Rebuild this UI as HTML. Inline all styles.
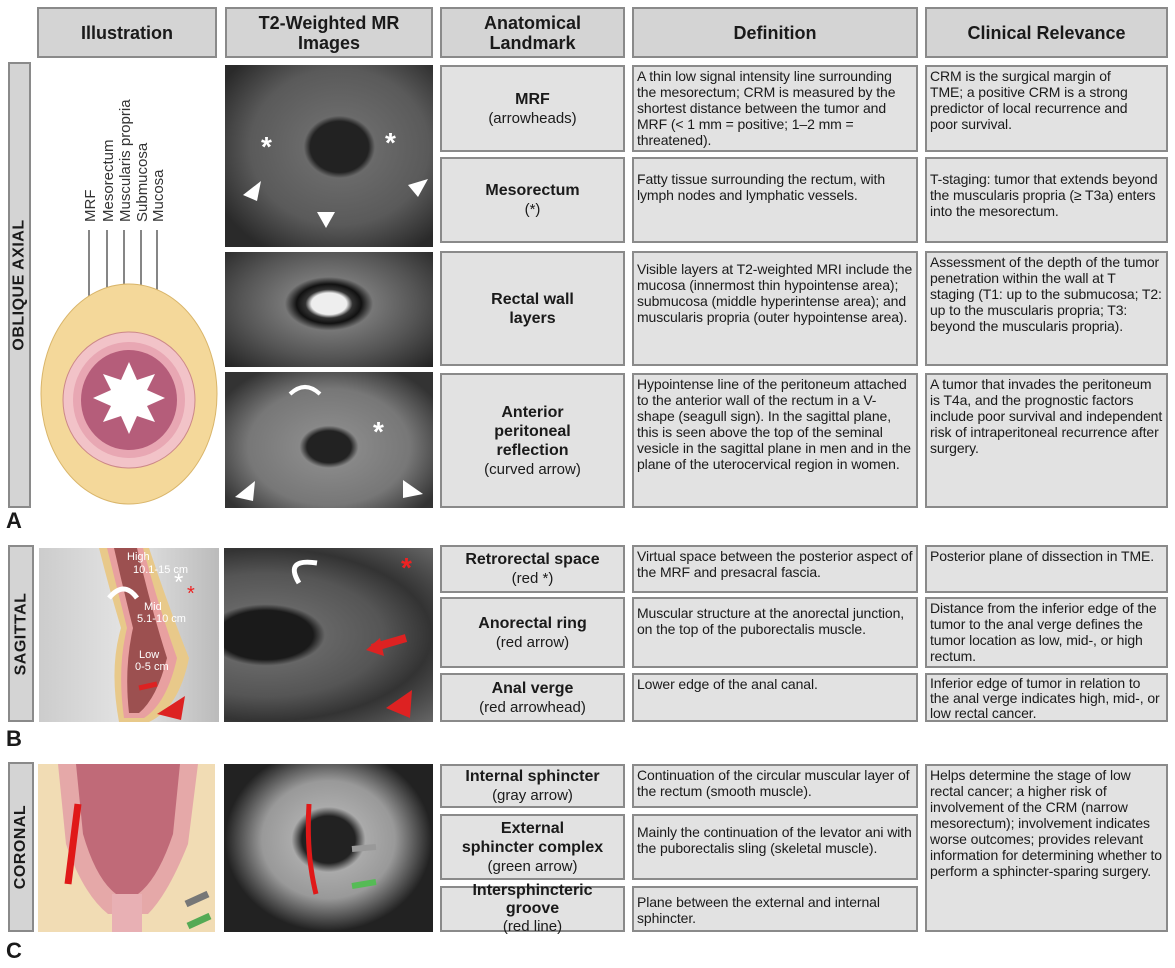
<!DOCTYPE html><html><head><style>
body{margin:0;width:1175px;height:968px;background:#fff;position:relative;overflow:hidden;font-family:"Liberation Sans",sans-serif;color:#1a1a1a}
.b{position:absolute;box-sizing:border-box;background:#e2e2e2;border:2px solid #8a8a8a}
.h{display:flex;align-items:center;justify-content:center;text-align:center;font-weight:bold;font-size:18px;line-height:20px;background:#d4d4d4}
.l{display:flex;flex-direction:column;align-items:center;justify-content:center;text-align:center;font-size:15px;line-height:19px}
.l b{font-size:16px}
.d{font-size:14px;line-height:16px;padding:1px 3px;letter-spacing:-0.1px}
.s{display:flex;align-items:center;justify-content:center;background:#d4d4d4}
.s span{transform:rotate(-90deg);white-space:nowrap;font-weight:bold;font-size:16px;letter-spacing:.5px}
.L{position:absolute;font-weight:bold;font-size:22px;left:6px}
.m{position:absolute;background:#3a3a3a;overflow:hidden}
.w{position:absolute;color:#fff;font-size:28px;font-weight:bold}
.r{position:absolute;color:#e22;font-size:28px;font-weight:bold}
</style></head><body>
<div class="b h" style="left:37px;top:7px;width:180px;height:51px">Illustration</div>
<div class="b h" style="left:225px;top:7px;width:208px;height:51px">T2-Weighted MR<br>Images</div>
<div class="b h" style="left:440px;top:7px;width:185px;height:51px">Anatomical<br>Landmark</div>
<div class="b h" style="left:632px;top:7px;width:286px;height:51px">Definition</div>
<div class="b h" style="left:925px;top:7px;width:243px;height:51px">Clinical Relevance</div>

<div class="b s" style="left:8px;top:62px;width:23px;height:446px"><span>OBLIQUE AXIAL</span></div>
<div class="L" style="top:508px">A</div>
<div class="b s" style="left:8px;top:545px;width:26px;height:177px"><span>SAGITTAL</span></div>
<div class="L" style="top:726px">B</div>
<div class="b s" style="left:8px;top:762px;width:26px;height:170px"><span>CORONAL</span></div>
<div class="L" style="top:938px">C</div>

<!-- Illustration A -->
<svg style="position:absolute;left:37px;top:60px" width="185" height="450">
<g font-size="15" fill="#333" font-family="Liberation Sans">
<text transform="translate(58,162) rotate(-90)">MRF</text>
<text transform="translate(76,162) rotate(-90)">Mesorectum</text>
<text transform="translate(93,162) rotate(-90)">Muscularis propria</text>
<text transform="translate(110,162) rotate(-90)">Submucosa</text>
<text transform="translate(126,162) rotate(-90)">Mucosa</text>
</g>
<g stroke="#444" stroke-width="1.3"><line x1="52" y1="170" x2="52" y2="240"/><line x1="70" y1="170" x2="70" y2="260"/><line x1="87" y1="170" x2="87" y2="275"/><line x1="104" y1="170" x2="104" y2="290"/><line x1="120" y1="170" x2="120" y2="300"/></g>
<ellipse cx="92" cy="334" rx="88" ry="110" fill="#f4d89a" stroke="#d9b56a"/>
<ellipse cx="92" cy="340" rx="66" ry="68" fill="#f2c3c8" stroke="#c88"/>
<ellipse cx="92" cy="340" rx="56" ry="58" fill="#e8a7b3"/>
<ellipse cx="92" cy="340" rx="48" ry="50" fill="#b55d7a"/>
<path d="M92 302 l8 18 l18 -6 l-8 16 l18 8 l-18 8 l8 16 l-18 -6 l-8 18 l-8 -18 l-18 6 l8 -16 l-18 -8 l18 -8 l-8 -16 l18 6z" fill="#fff"/>
</svg>
<!-- MRI A -->
<div class="m" style="left:225px;top:65px;width:208px;height:182px;background:radial-gradient(ellipse at 55% 45%,#222 0 18%,#6a6a6a 22%,#5a5a5a 55%,#2a2a2a 85%)"><span class="w" style="left:36px;top:66px">*</span><span class="w" style="left:160px;top:62px">*</span>
<svg width="208" height="182" style="position:absolute;left:0;top:0" fill="#fff"><path d="M18 130 l18 -14 l-4 20z"/><path d="M183 120 l20 -6 l-10 18z"/><path d="M92 147 l18 0 l-9 16z"/></svg></div>
<div class="m" style="left:225px;top:252px;width:208px;height:115px;background:radial-gradient(ellipse at 50% 45%,#eee 0 12%,#333 16%,#111 22%,#777 30%,#555 60%,#222)"></div>
<div class="m" style="left:225px;top:372px;width:208px;height:136px;background:radial-gradient(ellipse at 50% 55%,#222 0 15%,#888 20%,#777 55%,#333 85%)"><span class="w" style="left:148px;top:44px">*</span>
<svg width="208" height="136" style="position:absolute;left:0;top:0" fill="#fff"><path d="M65 22 q15 -14 30 0" stroke="#fff" stroke-width="4" fill="none"/><path d="M10 125 l20 -16 l-2 20z"/><path d="M178 108 l20 14 l-20 4z"/></svg></div>

<div class="b l" style="left:440px;top:65px;width:185px;height:87px"><b>MRF</b>(arrowheads)</div>
<div class="b l" style="left:440px;top:157px;width:185px;height:86px"><b>Mesorectum</b>(*)</div>
<div class="b l" style="left:440px;top:251px;width:185px;height:115px"><b>Rectal wall<br>layers</b></div>
<div class="b l" style="left:440px;top:373px;width:185px;height:135px"><b>Anterior<br>peritoneal<br>reflection</b>(curved arrow)</div>

<div class="b d" style="left:632px;top:65px;width:286px;height:87px">A thin low signal intensity line surrounding the mesorectum; CRM is measured by the shortest distance between the tumor and MRF (&lt; 1 mm = positive; 1–2 mm = threatened).</div>
<div class="b d" style="left:632px;top:157px;width:286px;height:86px;padding-top:12px">Fatty tissue surrounding the rectum, with lymph nodes and lymphatic vessels.</div>
<div class="b d" style="left:632px;top:251px;width:286px;height:115px;padding-top:8px">Visible layers at T2-weighted MRI include the mucosa (innermost thin hypointense area); submucosa (middle hyperintense area); and muscularis propria (outer hypointense area).</div>
<div class="b d" style="left:632px;top:373px;width:286px;height:135px">Hypointense line of the peritoneum attached to the anterior wall of the rectum in a V-shape (seagull sign). In the sagittal plane, this is seen above the top of the seminal vesicle in the sagittal plane in men and in the plane of the uterocervical region in women.</div>

<div class="b d" style="left:925px;top:65px;width:243px;height:87px;padding-right:30px">CRM is the surgical margin of TME; a positive CRM is a strong predictor of local recurrence and poor survival.</div>
<div class="b d" style="left:925px;top:157px;width:243px;height:86px;padding-top:12px">T-staging: tumor that extends beyond the muscularis propria (≥ T3a) enters into the mesorectum.</div>
<div class="b d" style="left:925px;top:251px;width:243px;height:115px">Assessment of the depth of the tumor penetration within the wall at T staging (T1: up to the submucosa; T2: up to the muscularis propria; T3: beyond the muscularis propria).</div>
<div class="b d" style="left:925px;top:373px;width:243px;height:135px">A tumor that invades the peritoneum is T4a, and the prognostic factors include poor survival and independent risk of intraperitoneal recurrence after surgery.</div>

<!-- Sagittal -->
<div style="position:absolute;left:39px;top:548px;width:180px;height:174px;background:linear-gradient(90deg,#ccc,#e4e4e4 50%,#bbb);overflow:hidden">
<svg width="180" height="174"><path d="M60 0 L110 0 Q130 60 150 110 Q140 160 110 174 L80 174 Q70 120 82 80 Q70 40 60 0z" fill="#e8c98a"/><path d="M68 0 L104 0 Q120 60 138 110 Q128 155 105 170 L85 170 Q78 120 88 80 Q78 40 68 0z" fill="#e8a0a0"/><path d="M75 0 L98 0 Q112 60 128 110 Q118 150 100 165 L90 165 Q85 120 94 80 Q84 40 75 0z" fill="#9c5050"/>
<path d="M100 140 l18 -4" stroke="#d22" stroke-width="5"/><path d="M118 166 l28 -18 l-4 24z" fill="#d22"/>
<path d="M70 50 q15 -18 28 0" stroke="#fff" stroke-width="5" fill="none"/>
<g fill="#fff" font-size="11" font-family="Liberation Sans"><text x="88" y="12">High</text><text x="94" y="25">10.1-15 cm</text><text x="105" y="62">Mid</text><text x="98" y="74">5.1-10 cm</text><text x="100" y="110">Low</text><text x="96" y="122">0-5 cm</text></g>
<text x="135" y="42" fill="#fff" font-size="24">*</text><text x="148" y="52" fill="#e22" font-size="20">*</text></svg></div>
<div class="m" style="left:224px;top:548px;width:209px;height:174px;background:radial-gradient(ellipse at 20% 50%,#1a1a1a 0 20%,#666 25%,#555 50%,#333 70%,#666)">
<span class="r" style="left:177px;top:4px">*</span>
<svg width="209" height="174" style="position:absolute;left:0;top:0"><path d="M75 35 q-15 -25 18 -20" stroke="#fff" stroke-width="5" fill="none"/><path d="M148 100 l34 -10" stroke="#d22" stroke-width="8"/><path d="M142 102 l14 -12 l4 18z" fill="#d22"/><path d="M162 160 l26 -18 l-2 28z" fill="#d22"/></svg></div>

<div class="b l" style="left:440px;top:545px;width:185px;height:48px"><b>Retrorectal space</b>(red *)</div>
<div class="b l" style="left:440px;top:597px;width:185px;height:71px"><b>Anorectal ring</b>(red arrow)</div>
<div class="b l" style="left:440px;top:673px;width:185px;height:49px"><b>Anal verge</b>(red arrowhead)</div>
<div class="b d" style="left:632px;top:545px;width:286px;height:48px">Virtual space between the posterior aspect of the MRF and presacral fascia.</div>
<div class="b d" style="left:632px;top:597px;width:286px;height:71px;padding-top:6px">Muscular structure at the anorectal junction, on the top of the puborectalis muscle.</div>
<div class="b d" style="left:632px;top:673px;width:286px;height:49px">Lower edge of the anal canal.</div>
<div class="b d" style="left:925px;top:545px;width:243px;height:48px">Posterior plane of dissection in TME.</div>
<div class="b d" style="left:925px;top:597px;width:243px;height:71px">Distance from the inferior edge of the tumor to the anal verge defines the tumor location as low, mid-, or high rectum.</div>
<div class="b d" style="left:925px;top:673px;width:243px;height:49px;line-height:15px">Inferior edge of tumor in relation to the anal verge indicates high, mid-, or low rectal cancer.</div>

<!-- Coronal -->
<div style="position:absolute;left:38px;top:764px;width:177px;height:168px;background:#f1dcb4;overflow:hidden">
<svg width="177" height="168"><path d="M20 0 L160 0 L150 80 Q130 130 110 150 L70 150 Q45 130 28 80z" fill="#e5a8a8"/><path d="M38 0 L142 0 L135 70 Q120 115 100 130 L78 130 Q58 115 45 70z" fill="#c06a78"/><rect x="74" y="130" width="30" height="38" fill="#e8b0b4"/><path d="M40 40 L30 120" stroke="#e01818" stroke-width="7"/><path d="M148 140 l22 -10" stroke="#777" stroke-width="7"/><path d="M150 162 l22 -10" stroke="#5a5" stroke-width="7"/></svg></div>
<div class="m" style="left:224px;top:764px;width:209px;height:168px;background:radial-gradient(ellipse at 50% 45%,#222 0 18%,#aaa 25%,#999 45%,#222 70%)">
<svg width="209" height="168" style="position:absolute;left:0;top:0"><path d="M85 40 Q82 90 92 130" stroke="#e01818" stroke-width="5" fill="none"/><path d="M128 85 l24 -2" stroke="#999" stroke-width="6"/><path d="M128 122 l24 -4" stroke="#5b5" stroke-width="6"/></svg></div>

<div class="b l" style="left:440px;top:764px;width:185px;height:44px"><b>Internal sphincter</b>(gray arrow)</div>
<div class="b l" style="left:440px;top:814px;width:185px;height:66px"><b>External<br>sphincter complex</b>(green arrow)</div>
<div class="b l" style="left:440px;top:886px;width:185px;height:46px;line-height:18px"><b>Intersphincteric<br>groove</b> <span>(red line)</span></div>
<div class="b d" style="left:632px;top:764px;width:286px;height:44px">Continuation of the circular muscular layer of the rectum (smooth muscle).</div>
<div class="b d" style="left:632px;top:814px;width:286px;height:66px;padding-top:8px">Mainly the continuation of the levator ani with the puborectalis sling (skeletal muscle).</div>
<div class="b d" style="left:632px;top:886px;width:286px;height:46px;padding-top:6px">Plane between the external and internal sphincter.</div>
<div class="b d" style="left:925px;top:764px;width:243px;height:168px">Helps determine the stage of low rectal cancer; a higher risk of involvement of the CRM (narrow mesorectum); involvement indicates worse outcomes; provides relevant information for determining whether to perform a sphincter-sparing surgery.</div>
</body></html>
